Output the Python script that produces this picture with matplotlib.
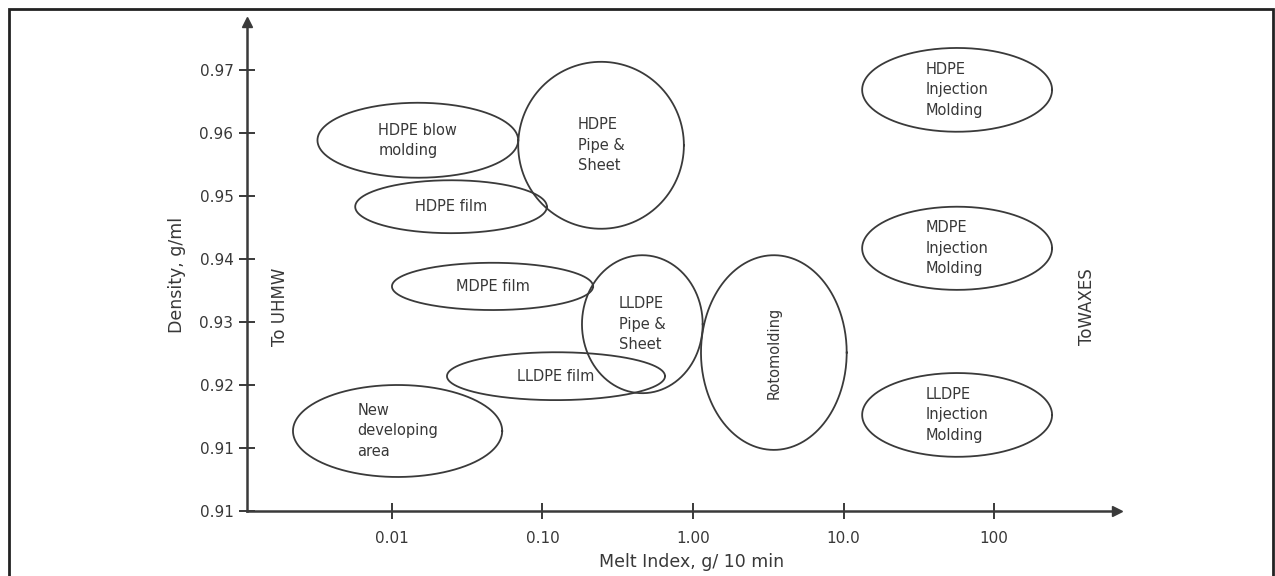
import numpy as np
import matplotlib
matplotlib.use('Agg')
import matplotlib.pyplot as plt
from matplotlib.patches import Rectangle
from matplotlib.ticker import NullLocator

# polyethylene application windows: melt index range (g/10 min) and density range (g/ml)
apps = [
    "HDPE blow\nmolding",
    "HDPE\nPipe &\nSheet",
    "HDPE film",
    "MDPE film",
    "LLDPE\nPipe &\nSheet",
    "LLDPE film",
    "New\ndeveloping\narea",
    "Rotomolding",
    "HDPE\nInjection\nMolding",
    "MDPE\nInjection\nMolding",
    "LLDPE\nInjection\nMolding",
]
mi_low = [0.0032, 0.069, 0.0057, 0.010, 0.183, 0.0232, 0.0022, 1.13, 13.3, 13.3, 13.3]
mi_high = [0.069, 0.87, 0.107, 0.217, 1.16, 0.652, 0.054, 10.5, 243, 243, 243]
dens_low = [0.9529, 0.9448, 0.9441, 0.9319, 0.9187, 0.9176, 0.9054, 0.9097, 0.9602, 0.9351, 0.9086]
dens_high = [0.9648, 0.9713, 0.9525, 0.9394, 0.9406, 0.9252, 0.9200, 0.9406, 0.9735, 0.9483, 0.9219]

x_ticks = [0.01, 0.1, 1, 10, 100]
x_tick_labels = ["0.01", "0.10", "1.00", "10.0", "100"]
y_ticks = [0.90, 0.91, 0.92, 0.93, 0.94, 0.95, 0.96, 0.97]
y_tick_labels = ["0.91", "0.91", "0.92", "0.93", "0.94", "0.95", "0.96", "0.97"]

line_col = '#3a3a3a'
text_col = '#383838'

fig = plt.figure(figsize=(12.75, 5.76), dpi=100)
ax = fig.add_axes([247 / 1275, 65 / 576, 870 / 1275, 489 / 576])

ax.set_xscale('log')
ax.set_xlim(10 ** -2.963, 10 ** 2.817)
ax.set_ylim(0.90, 0.97762)

# each window drawn as an ellipse in log(melt index) / density space
t = np.linspace(0, 2 * np.pi, 400)
for i, name in enumerate(apps):
    lx0, lx1 = np.log10(mi_low[i]), np.log10(mi_high[i])
    cx, rx = (lx0 + lx1) / 2, (lx1 - lx0) / 2
    cy, ry = (dens_low[i] + dens_high[i]) / 2, (dens_high[i] - dens_low[i]) / 2
    ax.plot(10 ** (cx + rx * np.cos(t)), cy + ry * np.sin(t), color=line_col, lw=1.3)
    rot = 90 if name == "Rotomolding" else 0
    ax.text(10 ** cx, cy, name, ha='center', va='center', multialignment='left',
            rotation=rot, fontsize=10.5, color=text_col, linespacing=1.45)

ax.set_xticks(x_ticks)
ax.set_xticklabels(x_tick_labels)
ax.xaxis.set_minor_locator(NullLocator())
ax.set_yticks(y_ticks)
ax.set_yticklabels(y_tick_labels)

ax.tick_params(axis='both', direction='inout', length=11.5, width=1.4, colors=line_col,
               labelcolor=text_col, labelsize=11)
ax.tick_params(axis='x', pad=9)
ax.tick_params(axis='y', pad=4)

for s in ['top', 'right']:
    ax.spines[s].set_visible(False)
for s in ['left', 'bottom']:
    ax.spines[s].set_linewidth(1.8)
    ax.spines[s].set_color(line_col)

# arrow heads on the axes
ax.plot([1], [0], marker='>', ms=7, color=line_col, transform=ax.transAxes, clip_on=False)
ax.plot([0], [1], marker='^', ms=7, color=line_col, transform=ax.transAxes, clip_on=False)

ax.set_xlabel("Melt Index, g/ 10 min", fontsize=12.5, color=text_col)
ax.xaxis.label.set_verticalalignment('center')
ax.xaxis.set_label_coords(0.5115, -0.1043)
ax.set_ylabel("Density, g/ml", fontsize=12.5, color=text_col)
ax.yaxis.label.set_verticalalignment('center')
ax.yaxis.set_label_coords(-0.0805, 0.4826)

ax.text(0.0379, 0.417, "To UHMW", transform=ax.transAxes, rotation=90, ha='center',
        va='center', fontsize=12, color=text_col)
ax.text(0.9655, 0.417, "ToWAXES", transform=ax.transAxes, rotation=90, ha='center',
        va='center', fontsize=12, color=text_col)

# frame around the whole figure
fig.patches.append(Rectangle((9 / 1275, -0.05), 1264 / 1275, 567 / 576 + 0.05,
                             transform=fig.transFigure, fill=False, lw=2, ec='#222222'))

fig.savefig('out.png', dpi=100)
